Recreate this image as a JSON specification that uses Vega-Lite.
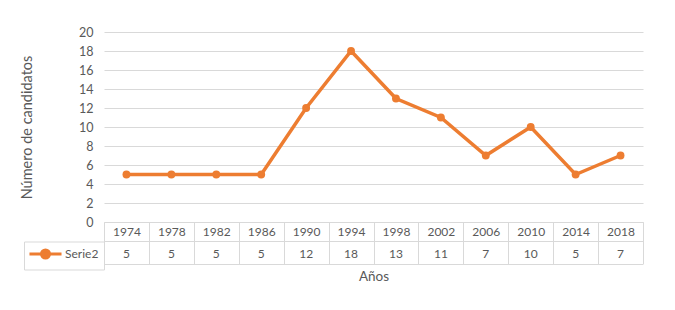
{
  "$schema": "https://vega.github.io/schema/vega-lite/v6.json",
  "width": 539,
  "height": 190,
  "autosize": {"type": "none"},
  "padding": {"left": 104, "top": 32, "right": 32, "bottom": 88},
  "background": "white",
  "config": {
    "font": "Lato",
    "view": {"stroke": null},
    "axisY": {
      "tickCount": 10,
      "labelOverlap": false,
      "grid": true,
      "gridColor": "#d9d9d9",
      "domain": false,
      "ticks": false,
      "labelPadding": 11,
      "labelFontSize": 12.5,
      "labelColor": "#595959",
      "titleFontSize": 14.5,
      "titleFontWeight": "normal",
      "titleColor": "#595959",
      "titlePadding": 44
    }
  },
  "data": {
    "values": [
      {"anio": "1974", "valor": 5, "serie": "Serie2"},
      {"anio": "1978", "valor": 5, "serie": "Serie2"},
      {"anio": "1982", "valor": 5, "serie": "Serie2"},
      {"anio": "1986", "valor": 5, "serie": "Serie2"},
      {"anio": "1990", "valor": 12, "serie": "Serie2"},
      {"anio": "1994", "valor": 18, "serie": "Serie2"},
      {"anio": "1998", "valor": 13, "serie": "Serie2"},
      {"anio": "2002", "valor": 11, "serie": "Serie2"},
      {"anio": "2006", "valor": 7, "serie": "Serie2"},
      {"anio": "2010", "valor": 10, "serie": "Serie2"},
      {"anio": "2014", "valor": 5, "serie": "Serie2"},
      {"anio": "2018", "valor": 7, "serie": "Serie2"}
    ]
  },
  "layer": [
    {
      "mark": {"type": "line", "strokeWidth": 3.5},
      "encoding": {
        "x": {
          "field": "anio",
          "type": "ordinal",
          "scale": {"type": "band", "paddingInner": 0, "paddingOuter": 0},
          "axis": {
            "title": "Años",
            "labelAngle": 0,
            "tickBand": "extent",
            "tickSize": 42,
            "tickColor": "#d9d9d9",
            "domainColor": "#d9d9d9",
            "labelPadding": -37.5,
            "labelFontSize": 12,
            "labelColor": "#595959",
            "titleFontSize": 13.5,
            "titleFontWeight": "normal",
            "titleColor": "#595959",
            "titlePadding": 5,
            "grid": false
          }
        },
        "y": {
          "field": "valor",
          "type": "quantitative",
          "title": "Número de candidatos",
          "scale": {"domain": [0, 20], "nice": false}
        },
        "color": {
          "field": "serie",
          "type": "nominal",
          "scale": {"range": ["#ED7D31"]},
          "legend": {
            "title": null,
            "orient": "none",
            "legendX": -80,
            "legendY": 209.5,
            "strokeColor": "#d9d9d9",
            "padding": 5,
            "symbolType": "M-1.17,0H4.17M2.17,0A0.67,0.67,0,1,1,0.83,0A0.67,0.67,0,1,1,2.17,0Z",
            "symbolSize": 144,
            "symbolStrokeWidth": 3,
            "symbolFillColor": "#ED7D31",
            "symbolStrokeColor": "#ED7D31",
            "labelFontSize": 12,
            "labelColor": "#595959",
            "labelOffset": 21
          }
        }
      }
    },
    {
      "mark": {"type": "point", "filled": true, "size": 62, "color": "#ED7D31", "opacity": 1},
      "encoding": {
        "x": {"field": "anio", "type": "ordinal"},
        "y": {"field": "valor", "type": "quantitative"}
      }
    },
    {
      "mark": {"type": "text", "yOffset": 32, "fontSize": 12, "color": "#595959", "baseline": "middle"},
      "encoding": {
        "x": {"field": "anio", "type": "ordinal"},
        "y": {"datum": 0},
        "text": {"field": "valor", "type": "quantitative"}
      }
    },
    {
      "transform": [{"aggregate": [{"op": "count", "as": "n"}]}],
      "mark": {"type": "rule", "color": "#d9d9d9", "yOffset": 19.5},
      "encoding": {"y": {"datum": 0}}
    },
    {
      "transform": [{"aggregate": [{"op": "count", "as": "n"}]}],
      "mark": {"type": "rule", "color": "#d9d9d9", "yOffset": 42.5},
      "encoding": {"y": {"datum": 0}}
    }
  ]
}
